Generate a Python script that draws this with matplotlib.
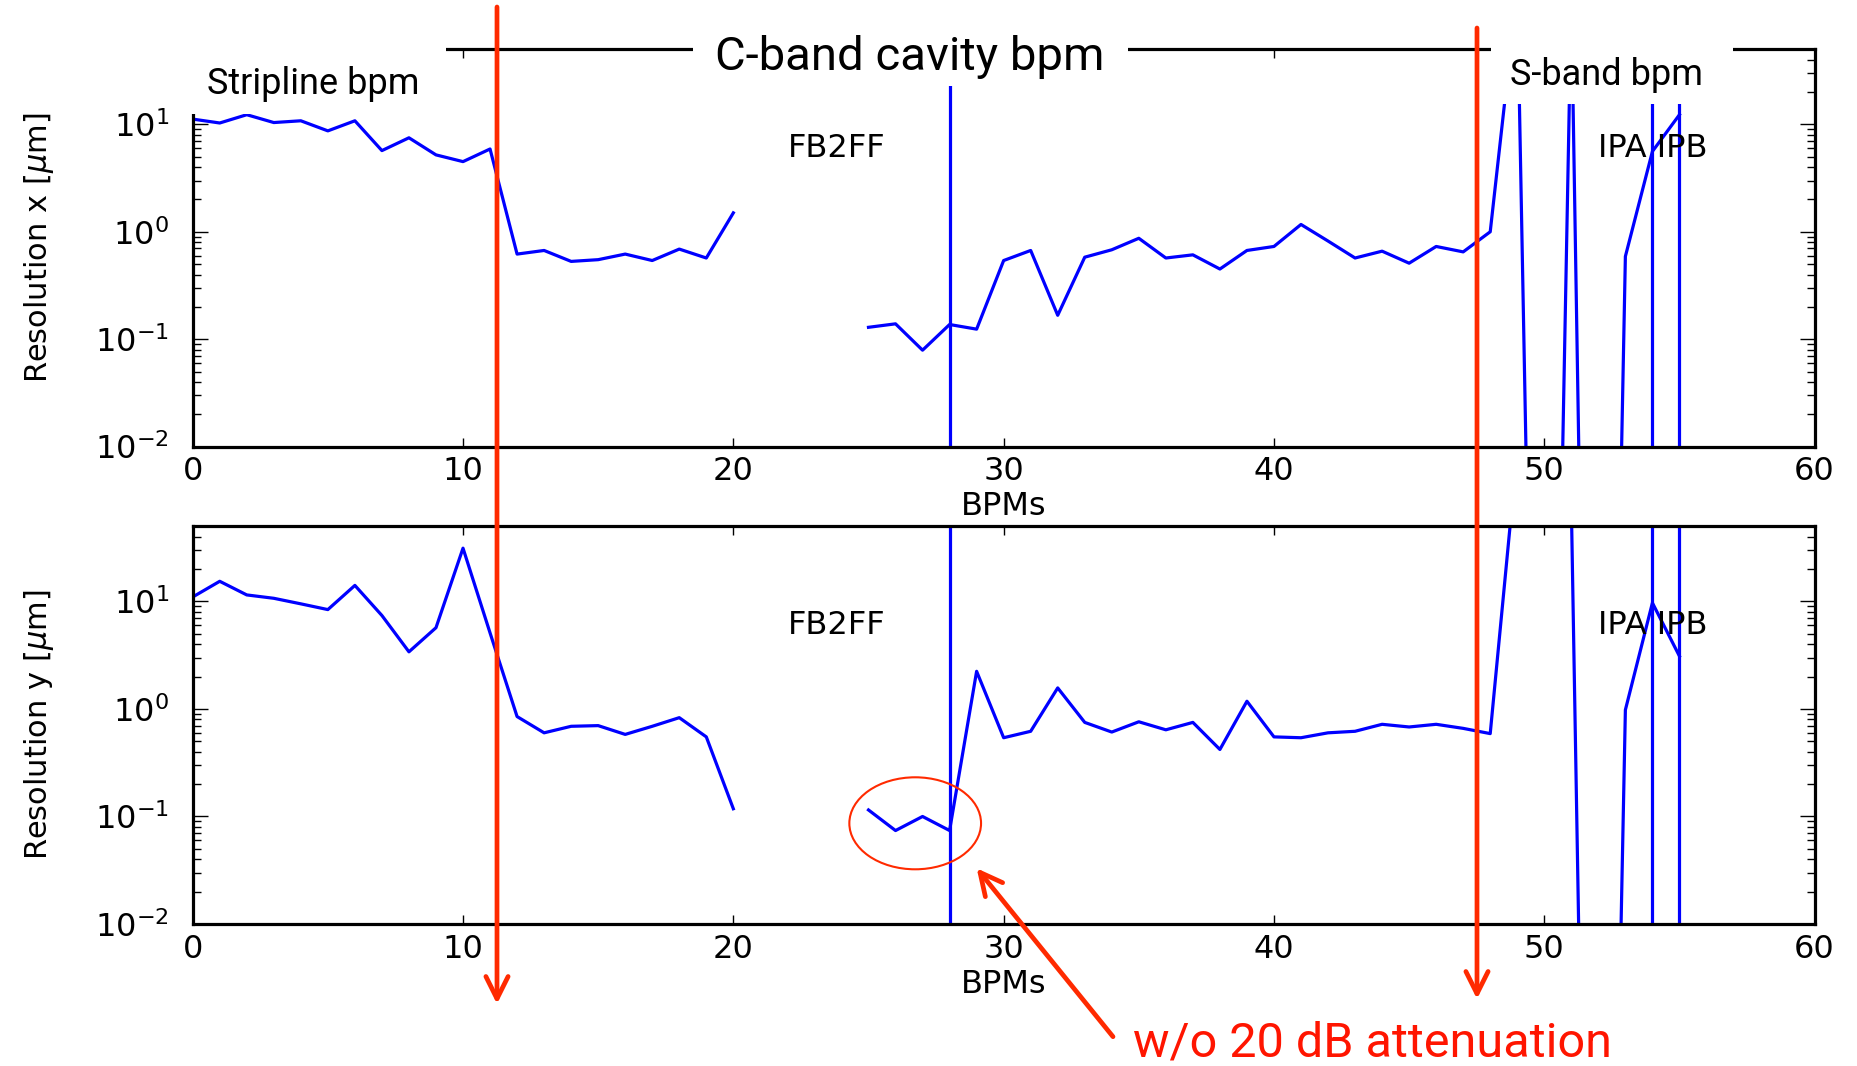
import numpy as np
import matplotlib
matplotlib.use("Agg")
import matplotlib.pyplot as plt
from matplotlib.patches import Rectangle, Ellipse, FancyArrowPatch

# ---------------- data ----------------
bpm_index = list(range(56))
nan = np.nan
res_x = [11.2, 10.3, 12.3, 10.4, 10.8, 8.7, 10.8, 5.7, 7.5, 5.2,
         4.5, 5.9, 0.62, 0.67, 0.53, 0.55, 0.62, 0.54, 0.69, 0.57,
         1.5, nan, nan, nan, nan, 0.129, 0.139, 0.079, 0.137, 0.124,
         0.54, 0.67, 0.167, 0.58, 0.68, 0.87, 0.57, 0.61, 0.45, 0.67,
         0.73, 1.17, 0.82, 0.57, 0.66, 0.51, 0.73, 0.65, 1.0, 180.0,
         1e-11, 150.0, 1e-13, 0.59, 5.6, 12.3]
res_y = [11.0, 15.4, 11.5, 10.7, 9.5, 8.4, 14.1, 7.4, 3.4, 5.7,
         31.3, 5.1, 0.85, 0.60, 0.69, 0.70, 0.58, 0.69, 0.83, 0.55,
         0.118, nan, nan, nan, nan, 0.115, 0.074, 0.100, 0.074, 2.24,
         0.54, 0.62, 1.57, 0.75, 0.61, 0.76, 0.64, 0.75, 0.42, 1.18,
         0.55, 0.54, 0.60, 0.62, 0.72, 0.68, 0.72, 0.66, 0.59, 250.0,
         400.0, 80.0, 3e-13, 0.98, 9.7, 3.1]
marker_bpms = [28, 54, 55]
marker_labels = [(22, 5, "FB2FF"), (52, 5, "IPA IPB")]
ylabels = ["Resolution x [$\\mu$m]", "Resolution y [$\\mu$m]"]

# ---------------- layout ----------------
W, H = 1858, 1066
fig = plt.figure(figsize=(W / 100, H / 100), dpi=100)
plt.rcParams['font.family'] = ['DejaVu Sans']
plt.rcParams['mathtext.fontset'] = 'dejavusans'


def P(x, y):
    return (x / W, 1 - y / H)


blue = '#0000ff'
red = '#ff2a00'
L, R = 192.7, 1814.6
boxes = [(49.3, 446.6), (526.3, 924.0)]
fs = 23

axes = []
for (top, bot), series, ylab in zip(boxes, [res_x, res_y], ylabels):
    ax = fig.add_axes([L / W, 1 - bot / H, (R - L) / W, (bot - top) / H])
    ax.plot(bpm_index, series, color=blue, lw=2.3)
    for xm in marker_bpms:
        ax.axvline(xm, color=blue, lw=2.3)
    for (tx, ty, s) in marker_labels:
        ax.text(tx, ty, s, fontsize=fs, color='black')
    ax.set_yscale('log')
    ax.set_xlim(0, 60)
    ax.set_ylim(0.01, 50)
    ax.set_xticks([0, 10, 20, 30, 40, 50, 60])
    ax.tick_params(axis='both', which='both', direction='in', top=True, right=True,
                   labelsize=fs, width=1.0)
    ax.tick_params(axis='x', which='major', length=6.5, pad=7)
    ax.tick_params(axis='y', which='major', length=11, pad=17)
    ax.tick_params(axis='y', which='minor', length=5.8)
    for sp in ax.spines.values():
        sp.set_linewidth(2.3)
    ax.set_xlabel("BPMs", fontsize=fs)
    ax.set_ylabel(ylab, fontsize=22)
    ax.xaxis.set_label_coords(0.5, -0.112)
    ax.yaxis.set_label_coords(-0.0843, 0.5)
    axes.append(ax)

# ---------------- slide overlays ----------------
for (x0, y0, x1, y1) in [(185, 0, 446, 113.5), (693, 0, 1128, 86), (1491, 0, 1733, 104)]:
    fig.add_artist(Rectangle(P(x0, y1), (x1 - x0) / W, (y1 - y0) / H,
                             transform=fig.transFigure, facecolor='white',
                             edgecolor='none', zorder=4))

fig.text(*P(206.7, 94), "Stripline bpm", fontsize=26, family=['Roboto', 'DejaVu Sans'],
         va='baseline', ha='left', zorder=6)
fig.text(*P(715, 70), "C-band cavity bpm", fontsize=34, family=['Roboto', 'DejaVu Sans'],
         va='baseline', ha='left', zorder=6)
fig.text(*P(1510, 85), "S-band bpm", fontsize=26, family=['Roboto', 'DejaVu Sans'],
         va='baseline', ha='left', zorder=6)
fig.text(*P(1133, 1056.7), "w/o 20 dB attenuation", fontsize=35, color='#ff1500',
         family=['Roboto', 'DejaVu Sans'], va='baseline', ha='left', zorder=6)

arrow_style = '->,head_length=0.8,head_width=0.4'
for (a, b) in [((497, 7), (497, 1004)), ((1477, 28), (1477, 999)),
               ((1113, 1036.7), (976.7, 868.3))]:
    fig.add_artist(FancyArrowPatch(P(*a), P(*b), transform=fig.transFigure,
                                   arrowstyle=arrow_style, mutation_scale=20,
                                   color=red, lw=3.4, shrinkA=0, shrinkB=0, zorder=7))

fig.add_artist(Ellipse(P(915.2, 823.3), 131.7 / W, 92 / H, transform=fig.transFigure,
                       facecolor='none', edgecolor=red, lw=1.5, zorder=7))

fig.savefig("out.png", dpi=100)
